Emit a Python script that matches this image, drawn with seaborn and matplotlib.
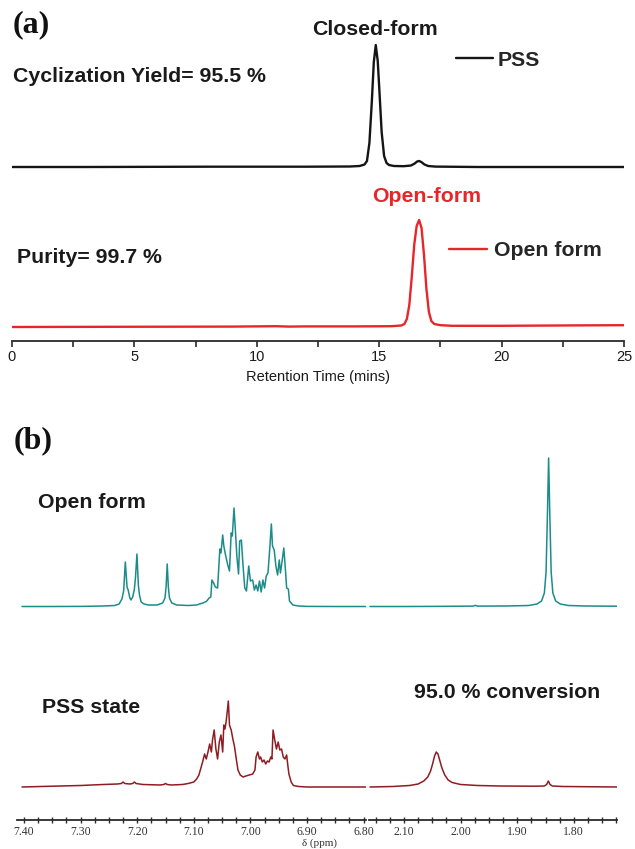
import numpy as np
import pandas as pd
import matplotlib
matplotlib.use("Agg")
import matplotlib.pyplot as plt
import seaborn as sns
from matplotlib.ticker import MultipleLocator, FormatStrFormatter

# ---------------- panel (a): HPLC traces ----------------
pss_time = [0.0, 3.0, 8.0, 12.0, 13.8, 14.2, 14.4, 14.5, 14.6, 14.7, 14.78, 14.86,
            14.94, 15.0, 15.1, 15.2, 15.3, 15.4, 15.6, 16.0, 16.3, 16.45, 16.55,
            16.63, 16.72, 16.85, 17.0, 17.3, 19.0, 22.0, 25.0]
pss_signal = [0, 0, 0.3, 0.3, 0.5, 1, 2.5, 6, 24, 66, 105, 122,
              106, 80, 35, 11, 4, 2, 1, 0.8, 1.5, 3.5, 5.5,
              6, 5, 2.5, 1, 0.4, 0, 0, 0]

open_time = [0.0, 4.0, 9.0, 10.8, 11.3, 12.0, 14.0, 15.5, 15.9, 16.03, 16.13, 16.23,
             16.33, 16.43, 16.53, 16.63, 16.73, 16.83, 16.93, 17.03, 17.13, 17.25,
             17.5, 18.0, 20.0, 23.0, 25.0]
open_signal = [0, 0.2, 0.4, 0.8, 0.4, 0.6, 0.6, 0.8, 1.5, 3, 8, 22,
               50, 82, 101, 107, 99, 72, 38, 15, 6, 3,
               1.8, 1.2, 1.2, 1.6, 1.8]

hplc_ticks = [0, 5, 10, 15, 20, 25]

# ---------------- panel (b): 1H NMR spectra ----------------
open_arom_ppm = [7.4035, 7.35, 7.30, 7.26, 7.240, 7.232, 7.227, 7.224, 7.221, 7.218,
                 7.216, 7.213, 7.211, 7.208, 7.205, 7.203, 7.2005, 7.198, 7.196, 7.193,
                 7.188, 7.180, 7.165, 7.155, 7.151, 7.149, 7.147, 7.145, 7.143, 7.139,
                 7.130, 7.110, 7.095, 7.090, 7.084, 7.080, 7.077, 7.073, 7.070, 7.068,
                 7.065, 7.062, 7.058, 7.054, 7.052, 7.049, 7.047, 7.044, 7.040, 7.037,
                 7.034, 7.032, 7.029, 7.027, 7.024, 7.021, 7.019, 7.016, 7.013, 7.010,
                 7.007, 7.003, 7.000, 6.996, 6.993, 6.990, 6.987, 6.984, 6.981, 6.978,
                 6.975, 6.972, 6.969, 6.966, 6.963, 6.961, 6.958, 6.955, 6.952, 6.949,
                 6.947, 6.944, 6.941, 6.938, 6.936, 6.933, 6.931, 6.925, 6.915, 6.900,
                 6.850, 6.796]
open_arom_int = [0.5, 0.5, 0.6, 1.0, 1.5, 3, 8, 16, 45, 20,
                 17, 9, 7, 10, 18, 30, 53, 22, 12, 5,
                 3, 2, 2, 4, 9, 20, 43, 20, 9, 4,
                 2, 1.5, 2, 3, 4, 5, 6, 9, 10, 27,
                 24, 20, 19, 58, 54, 72, 61, 52, 42, 36,
                 74, 71, 99, 81, 51, 33, 66, 67, 41, 19,
                 16, 41, 26, 27, 17, 22, 16, 26, 15, 27,
                 19, 31, 34, 57, 83, 61, 57, 41, 32, 47,
                 34, 46, 59, 36, 19, 18, 6, 2, 1, 0.6,
                 0.5, 0.5]

open_me_ppm = [2.160, 2.10, 2.05, 2.00, 1.978, 1.974, 1.970, 1.92, 1.88, 1.865,
               1.857, 1.852, 1.849, 1.8465, 1.8445, 1.8425, 1.840, 1.837, 1.832, 1.824,
               1.81, 1.78, 1.724]
open_me_int = [0.5, 0.5, 0.6, 0.8, 0.9, 1.6, 0.9, 1.0, 1.5, 3,
               6, 14, 35, 95, 149, 95, 35, 14, 6, 3,
               1.5, 1.0, 0.8]

pss_arom_ppm = [7.4035, 7.35, 7.30, 7.26, 7.235, 7.228, 7.225, 7.222, 7.213, 7.208,
                7.205, 7.202, 7.19, 7.16, 7.153, 7.150, 7.147, 7.14, 7.12, 7.11,
                7.100, 7.095, 7.091, 7.087, 7.084, 7.081, 7.078, 7.075, 7.072, 7.069,
                7.067, 7.064, 7.061, 7.058, 7.055, 7.052, 7.049, 7.047, 7.045, 7.043,
                7.041, 7.039, 7.037, 7.034, 7.031, 7.028, 7.025, 7.022, 7.018, 7.013,
                7.008, 7.002, 6.996, 6.992, 6.990, 6.987, 6.984, 6.982, 6.979, 6.976,
                6.973, 6.970, 6.967, 6.964, 6.962, 6.960, 6.957, 6.954, 6.951, 6.948,
                6.945, 6.942, 6.939, 6.936, 6.934, 6.932, 6.928, 6.924, 6.915, 6.900,
                6.850, 6.796]
pss_arom_int = [0, 0.8, 1.5, 2.5, 3, 3.5, 5, 3.5, 3, 3.5,
                5, 3.5, 2.5, 2, 2.5, 3.5, 2.5, 2, 2.5, 3.5,
                5, 8, 12, 20, 26, 33, 28, 35, 43, 35,
                47, 57, 38, 28, 45, 52, 35, 62, 58, 65,
                75, 86, 62, 57, 48, 40, 28, 17, 12, 10,
                11, 12, 13, 17, 30, 35, 28, 30, 25, 27,
                23, 26, 25, 30, 28, 57, 47, 38, 45, 37,
                38, 30, 28, 32, 22, 13, 5, 1.5, 0.5, 0,
                0, 0]

pss_me_ppm = [2.160, 2.12, 2.09, 2.075, 2.065, 2.058, 2.053, 2.049, 2.046, 2.043,
              2.040, 2.037, 2.033, 2.028, 2.022, 2.015, 2.00, 1.97, 1.93, 1.87,
              1.852, 1.848, 1.845, 1.842, 1.838, 1.82, 1.724]
pss_me_int = [0, 0.5, 1.5, 3, 6, 10, 16, 24, 31, 35,
              33, 27, 19, 12, 7, 4.5, 2.5, 1.5, 1, 0.8,
              1, 2.5, 6, 2.5, 1, 0.5, 0]

nmr_left_ticks = [7.40, 7.30, 7.20, 7.10, 7.00, 6.90, 6.80]
nmr_right_ticks = [2.10, 2.00, 1.90, 1.80]

# ---------------- styling ----------------
sns.set_theme(style="white")
plt.rcParams["font.family"] = ["Liberation Sans", "DejaVu Sans"]

W, H = 635, 849
fig = plt.figure(figsize=(W / 100, H / 100), dpi=100)


def ax_px(x0, y0, x1, y1):
    return fig.add_axes([x0 / W, 1 - y1 / H, (x1 - x0) / W, (y1 - y0) / H])


BOLD = dict(family=["Liberation Sans", "DejaVu Sans"], weight="bold", size=15.3)
SERIF = ["Liberation Serif", "DejaVu Serif"]
BLACK = "#151515"
RED = "#e8262a"
TEAL = "#1c8c8a"
DKRED = "#8e1d22"
AXC = "#2a2a2a"

# ---- panel (a), PSS trace ----
ax1 = ax_px(12, 30, 624, 175)
sns.lineplot(x=pss_time, y=pss_signal, ax=ax1, color=BLACK, linewidth=1.7,
             label="PSS", estimator=None, sort=False)
ax1.set_xlim(0, 25)
ax1.set_ylim(-8, 137)
ax1.axis("off")
ax1.legend(loc="center left", bbox_to_anchor=(456 / W, 1 - 60 / H),
           bbox_transform=fig.transFigure, frameon=False, prop=BOLD,
           handlelength=1.72, handletextpad=0.25, borderpad=0, borderaxespad=0)

# ---- panel (a), open-form trace + axis ----
ax2 = ax_px(12, 200, 624, 341)
sns.lineplot(x=open_time, y=open_signal, ax=ax2, color=RED, linewidth=1.7,
             label="Open form", estimator=None, sort=False)
ax2.set_xlim(0, 25)
ax2.set_ylim(-14, 127)
for s in ["top", "left", "right"]:
    ax2.spines[s].set_visible(False)
ax2.spines["bottom"].set_color(AXC)
ax2.spines["bottom"].set_linewidth(1.3)
ax2.set_yticks([])
ax2.set_xticks(hplc_ticks)
ax2.set_xticklabels([str(t) for t in hplc_ticks])
ax2.xaxis.set_minor_locator(MultipleLocator(2.5))
ax2.tick_params(axis="x", which="both", direction="out", length=4, width=1.2,
                color=AXC, bottom=True, labelsize=10.5, labelcolor="#1a1a1a", pad=2.5)
ax2.set_xlabel("Retention Time (mins)", fontsize=10.5, color="#1a1a1a", labelpad=4.5)
ax2.legend(loc="center left", bbox_to_anchor=(449 / W, 1 - 251 / H),
           bbox_transform=fig.transFigure, frameon=False, prop=BOLD,
           handlelength=1.8, handletextpad=0.3, borderpad=0, borderaxespad=0)

fig.text(13 / W, 1 - 25 / H, "(a)", family=SERIF, weight="bold", fontsize=23,
         va="center", ha="left", color="#111111")
fig.text(13 / W, 1 - 82 / H, "Cyclization Yield= 95.5 %", va="baseline", color="#1a1a1a", **BOLD)
fig.text(312 / W, 1 - 35 / H, "Closed-form", va="baseline", color="#1a1a1a", **BOLD)
fig.text(372 / W, 1 - 202 / H, "Open-form", va="baseline", color=RED, **BOLD)
fig.text(17 / W, 1 - 263 / H, "Purity= 99.7 %", va="baseline", color="#1a1a1a", **BOLD)

# ---- panel (b), NMR broken axis ----
TEAL_OFF, RED_OFF = 213, 33
axl = ax_px(17, 430, 366, 820)
axr = ax_px(369, 430, 617, 820)

sns.lineplot(x=open_arom_ppm, y=np.array(open_arom_int) + TEAL_OFF, ax=axl,
             color=TEAL, linewidth=1.1, estimator=None, sort=False)
sns.lineplot(x=pss_arom_ppm, y=np.array(pss_arom_int) + RED_OFF, ax=axl,
             color=DKRED, linewidth=1.1, estimator=None, sort=False)
sns.lineplot(x=open_me_ppm, y=np.array(open_me_int) + TEAL_OFF, ax=axr,
             color=TEAL, linewidth=1.1, estimator=None, sort=False)
sns.lineplot(x=pss_me_ppm, y=np.array(pss_me_int) + RED_OFF, ax=axr,
             color=DKRED, linewidth=1.1, estimator=None, sort=False)

axl.set_xlim(7.4124, 6.7958)
axr.set_xlim(2.1618, 1.7237)
for ax, ticks in ((axl, nmr_left_ticks), (axr, nmr_right_ticks)):
    ax.set_ylim(0, 390)
    for s in ["top", "left", "right"]:
        ax.spines[s].set_visible(False)
    ax.spines["bottom"].set_color(AXC)
    ax.spines["bottom"].set_linewidth(1.3)
    ax.set_yticks([])
    ax.set_xticks(ticks)
    ax.xaxis.set_major_formatter(FormatStrFormatter("%.2f"))
    ax.xaxis.set_minor_locator(MultipleLocator(0.025))
    ax.tick_params(axis="x", which="both", direction="inout", length=5, width=1.0,
                   color=AXC, bottom=True, labelsize=8.5, labelcolor="#333333", pad=1.5)
    for lab in ax.get_xticklabels():
        lab.set_family(SERIF)
    ax.set_xlabel("")
    ax.set_ylabel("")

fig.text(14 / W, 1 - 441 / H, "(b)", family=SERIF, weight="bold", fontsize=23,
         va="center", ha="left", color="#111111")
fig.text(38 / W, 1 - 508 / H, "Open form", va="baseline", color="#1a1a1a", **BOLD)
fig.text(42 / W, 1 - 713 / H, "PSS state", va="baseline", color="#1a1a1a", **BOLD)
fig.text(414 / W, 1 - 698 / H, "95.0 % conversion", va="baseline", color="#1a1a1a", **BOLD)
fig.text(320 / W, 1 - 843 / H, "δ (ppm)", family=SERIF, fontsize=8, color="#333333",
         va="center", ha="center")

fig.savefig("out.png", dpi=100)
